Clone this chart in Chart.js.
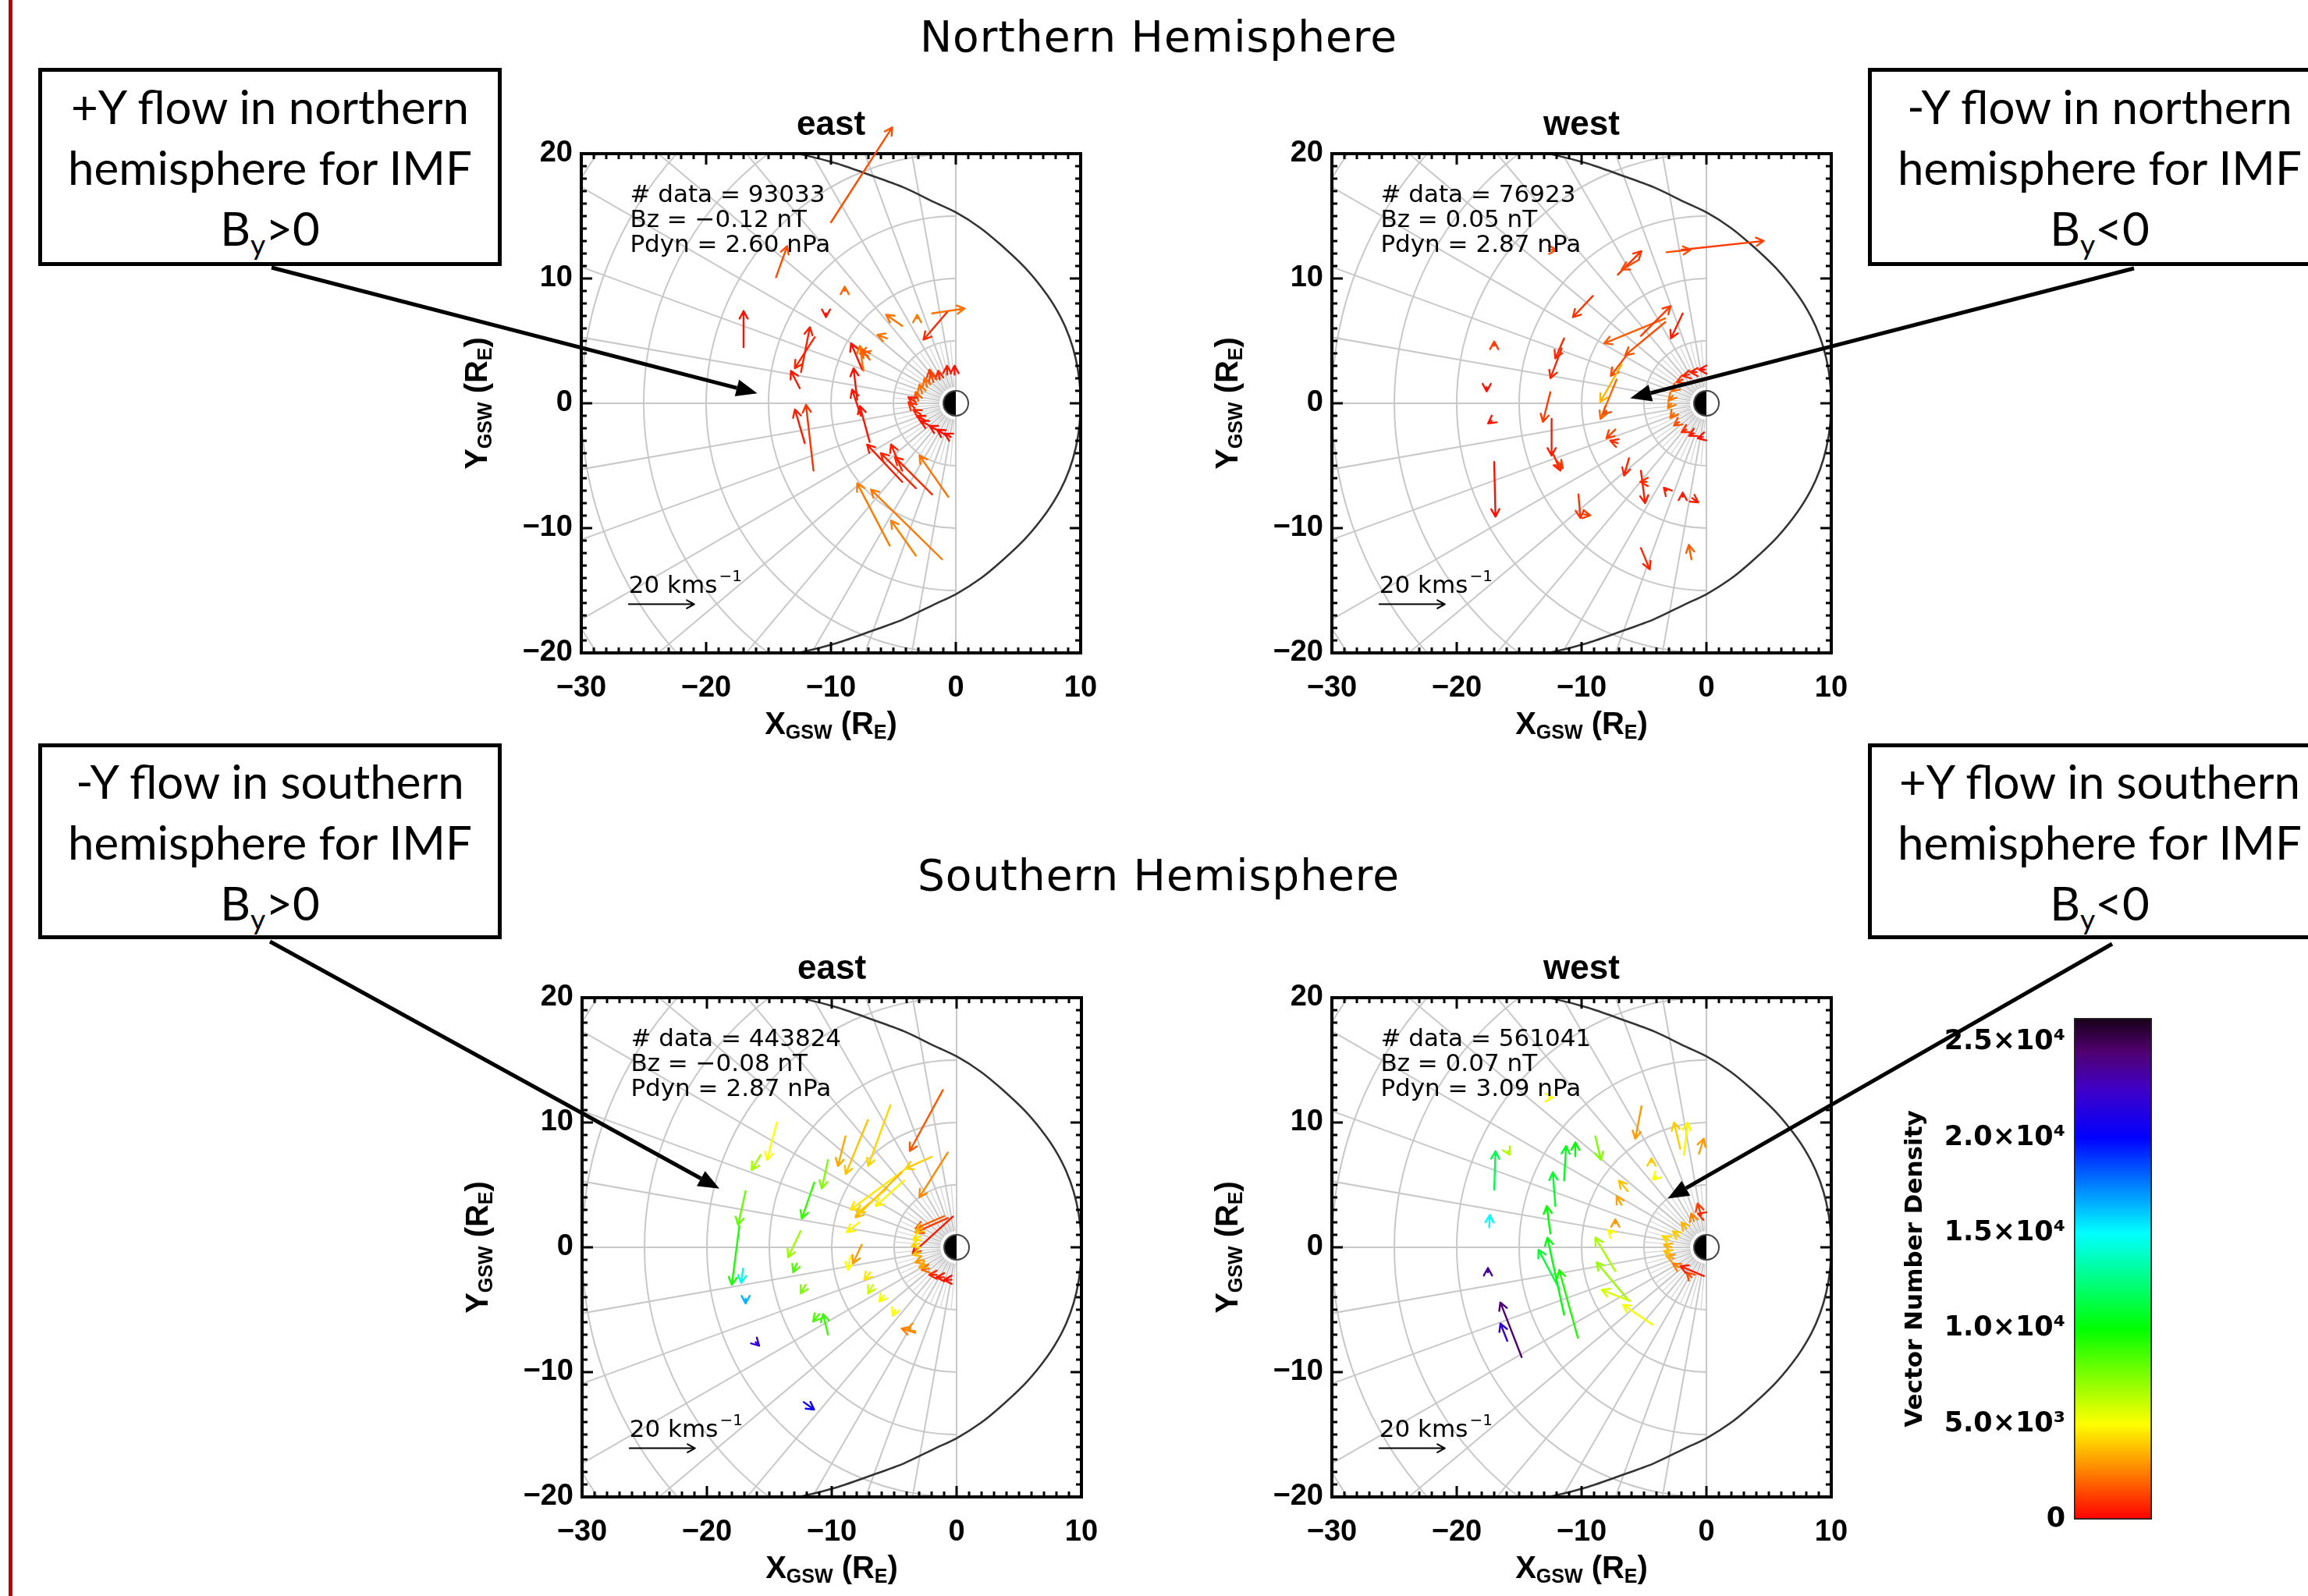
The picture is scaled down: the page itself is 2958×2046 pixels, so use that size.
<!DOCTYPE html>
<html>
<head>
<meta charset="utf-8">
<title>Flow vectors by hemisphere</title>
<script src="https://cdn.jsdelivr.net/npm/chart.js@4.4.1/dist/chart.umd.min.js"></script>
<style>
  html, body { margin: 0; padding: 0; background: #fff; }
  body { position: relative; width: 2958px; height: 2046px; overflow: hidden; }
  canvas { position: absolute; }
  .redline { position: absolute; left: 11px; top: 0; width: 5px; height: 2046px; background: #c00000; }
  .hemi { position: absolute; left: 1485px; transform: translate(-50%, -50%); font-family: "DejaVu Sans"; font-size: 55px; letter-spacing: 1px; white-space: nowrap; color: #000; }
  .note { position: absolute; width: 594px; box-sizing: border-box; border: 5px solid #000; background: #fff;
          font-family: Lato; font-size: 60px; line-height: 78px; text-align: center; color: #000;
          display: flex; align-items: center; justify-content: center; z-index: 2; }
  .note sub { font-size: 0.62em; line-height: 0; vertical-align: -0.32em; }
  #overlay { z-index: 3; pointer-events: none; left: 0; top: 0; }
</style>
</head>
<body>
<div class="redline"></div>
<div class="hemi" style="top:47px">Northern Hemisphere</div>
<div class="hemi" style="top:1122px">Southern Hemisphere</div>

<div class="note" style="left:49px; top:87px; height:254px"><div>+Y flow in northern<br>hemisphere for IMF<br>B<sub>y</sub>&gt;0</div></div>
<div class="note" style="left:2394px; top:87px; height:254px"><div>-Y flow in northern<br>hemisphere for IMF<br>B<sub>y</sub>&lt;0</div></div>
<div class="note" style="left:49px; top:953px; height:251px"><div>-Y flow in southern<br>hemisphere for IMF<br>B<sub>y</sub>&gt;0</div></div>
<div class="note" style="left:2394px; top:953px; height:251px"><div>+Y flow in southern<br>hemisphere for IMF<br>B<sub>y</sub>&lt;0</div></div>

<canvas id="tl" width="860" height="850" style="left:575px; top:117px"></canvas>
<canvas id="tr" width="860" height="850" style="left:1537px; top:117px"></canvas>
<canvas id="bl" width="860" height="850" style="left:576px; top:1199px"></canvas>
<canvas id="br" width="860" height="850" style="left:1537px; top:1199px"></canvas>
<canvas id="cbar" width="400" height="720" style="left:2400px; top:1260px"></canvas>
<canvas id="overlay" width="2958" height="2046"></canvas>

<script>
// Vector key: a 20 km/s arrow is drawn 5.25 R_E long
const keySpeed = 20;
const vecScale = 5.25 / 20;

// Northern hemisphere, IMF By > 0 ("east")
// tail position (R_E), velocity (km/s), vector number density
const tlX = [-10.0, -14.4, -8.9, -10.4, -17.0, -4.3, -3.1, -1.9, -0.7, -5.5, -12.4, -11.3, -12.1, -11.4, -12.5,
             -7.5, -7.9, -7.6, -6.9, -7.4, -6.8, -6.9, -4.3, -3.2, -1.9, -4.3, -0.6, -5.3, -1.1, -3.2,
             -0.1, -0.7, -1.3, -1.8, -2.3, -2.7, -3.0, -3.2, -2.8, -2.4, -2.1, -1.4, -0.9, -0.4, -3.3, -2.0];
const tlY = [14.5, 10.1, 9.0, 7.2, 4.5, 6.2, 6.8, 7.2, 7.3, 5.2, 2.5, 5.3, -3.2, -5.4, 1.2,
             2.7, 0.3, -1.0, -3.1, 2.6, 4.2, 3.5, -6.3, -6.8, -7.3, -5.4, -7.5, -11.4, -12.5, -12.2,
             2.3, 2.3, 1.9, 1.7, 1.3, 0.8, 0.2, 0.1, -0.9, -1.4, -1.8, -2.2, -2.5, -2.7, -0.4, 2.1];
const tlU = [18.7, 3.4, 0, 0, 0, -4.9, 0, 9.9, -7.2, -3.0, 2.7, -6.1, -3.0, -2.3, -2.7,
             -3.4, -1.1, -2.7, -3.0, -1.1, -3.4, -2.3, -10.7, -10.7, -11.4, -3.4, -8.8, -9.9, -21.7, -7.6,
             0, 0, -0.4, -0.8, -0.8, -0.8, -0.8, -2.3, -2.3, -2.7, -2.7, -2.7, -2.3, -1.9, -1.9, -0.4];
const tlV = [29.0, 9.5, 1.3, -1.1, 11.0, 3.4, 1.1, 1.5, -8.4, 1.1, 13.7, -9.5, 10.3, 20.1, 5.3,
             8.0, 9.5, 8.0, 11.0, 7.6, -0.8, 3.0, 11.4, 10.7, 11.4, 8.0, 12.6, 19.0, 21.3, 10.7,
             2.7, 2.7, 2.7, 2.7, 2.7, 2.7, 2.7, 1.5, 1.5, 1.5, 1.5, 1.5, 1.5, 1.1, 1.9, 2.3];
const tlN = [1500, 1500, 2000, 400, 300, 2200, 2400, 2200, 800, 2300, 600, 700, 500, 1000, 400,
             300, 300, 400, 400, 2200, 2000, 1800, 500, 700, 800, 600, 2200, 2400, 2300, 2500,
             300, 500, 800, 1500, 2000, 2200, 1800, 600, 700, 500, 400, 300, 200, 200, 900, 1200];

// Northern hemisphere, IMF By < 0 ("west")
const trX = [-3.2, -2.0, -7.1, -5.4, -9.1, -11.4, -11.6, -12.5, -12.4, -12.3, -12.0, -3.3, -5.25, -3.3, -1.9,
             -6.4, -6.8, -7.2, -8.0, -7.3, -7.1, -6.2, -5.25, -4.8, -3.2, -1.9, -1.15, -10.25, -9.8, -5.25,
             -1.2, -17.0, -17.0, -17.6, -17.2, -12.4,
             -0.1, -0.8, -1.4, -1.9, -2.4, -2.7, -2.8, -2.6, -2.2, -1.6, -1.0, -0.3];
const trY = [12.1, 12.3, 10.3, 11.5, 8.6, 5.2, 4.4, 0.9, -1.25, -4.0, -4.6, 6.8, 5.4, 6.5, 7.2,
             3.85, 3.1, 1.9, -0.6, -2.1, -3.2, -4.4, -5.4, -6.3, -7.0, -7.5, -7.6, -7.3, -8.9, -11.6,
             -12.5, -4.7, 4.6, 1.3, -1.4, 12.3,
             2.7, 2.5, 2.3, 1.9, 1.3, 0.6, 0.0, -0.8, -1.5, -2.1, -2.4, -2.7];
const trU = [7.4, 25.1, 7.2, -5.3, -6.1, -2.7, -3.4, -2.3, 0, 2.3, 1.9, -18.6, 9.1, -12.2, -3.6,
             -4.8, -6.5, -4.9, -1.1, -2.7, -2.3, -1.5, 1.3, -1.9, -0.8, 0, 1.9, 0.6, 1.9, 2.7,
             -0.8, 0.4, 0, 0, -1.1, 1.5,
             -1.9, -1.9, -1.9, -1.9, -1.5, -1.3, -1.1, -1.1, -1.5, -1.5, -1.5, -1.5];
const trV = [0.8, 2.7, 7.2, -3.0, -6.5, -6.1, -9.1, -9.1, -11.2, -5.3, -2.3, -7.6, 9.1, -10.1, -7.6,
             -6.3, -11.4, -12.0, -1.1, -2.7, 0.8, -5.3, -9.9, 0, 0.9, 1.3, -1.3, -7.2, -0.3, -6.5,
             4.4, -16.7, 1.3, -1.3, -0.8, 0,
             0, 0, -0.4, -0.8, -1.3, -1.5, -1.5, -1.5, -1.1, -0.8, -0.8, -0.4];
const trN = [1500, 1200, 1000, 1400, 1000, 800, 700, 1200, 500, 800, 1000, 1800, 1200, 1500, 600,
             1400, 3500, 2000, 1500, 1300, 900, 700, 500, 800, 600, 500, 600, 1000, 1200, 700,
             1800, 300, 1200, 300, 400, 1500,
             400, 500, 700, 1200, 2000, 2200, 2400, 2000, 1500, 900, 500, 300];

// Southern hemisphere, IMF By > 0 ("east")
const blX = [-1.1, -0.7, -2.0, -5.3, -7.1, -8.9, -14.4, -15.7, -10.3, -11.4, -4.0, -4.4, -4.2, -5.6, -7.8,
             -16.9, -17.4, -17.1, -16.9, -16.1, -12.25, -12.5, -12.8, -12.1, -11.0, -10.3, -8.5, -7.6, -6.9, -6.7,
             -5.8, -4.9, -3.3, -3.7, -0.3, -0.7, -1.0,
             -2.7, -2.9, -3.0, -2.9, -2.7, -2.2, -1.6, -1.0, -0.4, -2.5];
const blY = [12.6, 7.6, 7.25, 11.4, 10.2, 8.9, 10.0, 7.4, 7.0, 5.2, 6.35, 6.0, 5.35, 4.7, 2.0,
             4.5, 1.7, -1.7, -4.1, -7.6, -12.4, 1.3, -1.3, -3.0, -5.35, -7.0, -0.7, 0.2, -2.0, -3.0,
             -3.85, -5.0, -6.85, -6.5, 2.46, 2.35, 2.5,
             1.6, 0.9, 0.3, -0.4, -1.0, -1.7, -2.2, -2.4, -2.6, -1.4];
const blU = [-10.1, -8.7, -8.0, -6.8, -6.8, -2.3, -3.0, -2.7, -1.9, -3.8, -17.1, -14.1, -8.7, -9.1, -3.8,
             -2.3, -2.3, -0.6, 0, 1.1, 3.2, -3.8, -1.1, -1.5, -1.9, -1.5, -0.8, -2.7, -1.9, -1.5,
             -1.5, -0.8, -4.2, -1.1, -12.3, -9.9, -8.7,
             -2.3, -2.3, -2.3, -2.3, -2.3, -2.3, -2.3, -2.3, -2.3, -1.9];
const blV = [-18.6, -13.7, -3.6, -18.6, -16.5, -9.1, -11.4, -4.6, -8.7, -11.0, -12.7, -13.7, -7.8, -7.6, -3.0,
             -10.3, -17.9, -4.4, -1.5, -1.1, -2.3, -8.0, -2.7, -2.7, -2.3, 6.3, -4.2, -5.7, -2.3, -2.7,
             -1.9, -1.9, 1.3, -0.4, -11.2, -4.4, -3.8,
             -1.5, -1.1, -0.8, -0.8, -0.8, -0.4, 0, 0, 0, -0.8];
const blN = [1700, 2700, 4000, 4200, 3800, 3300, 5000, 6800, 7500, 9000, 4500, 3500, 4800, 4000, 4800,
             8000, 9500, 14500, 16500, 22000, 20500, 7000, 8500, 7500, 8500, 9000, 5000, 3000, 4500, 6000,
             5200, 5000, 2500, 2800, 500, 1200, 1800,
             3500, 4500, 4200, 3800, 3000, 2000, 800, 500, 300, 3200];

// Southern hemisphere, IMF By < 0 ("west")
const brX = [-17.0, -15.9, -17.4, -17.5, -14.8, -15.95, -11.4, -10.5, -12.1, -12.5, -11.4, -10.3, -11.8, -8.9, -5.2,
             -4.4, -4.0, -6.3, -6.8, -7.3, -7.6, -7.3, -6.2, -4.3, -6.1, -2.1, -1.8, -0.6, -12.6,
             -0.5, -1.0, -1.6, -2.2, -2.8, -2.6, -2.2, -1.2, -0.2, -0.4, -3.0, -2.9];
const brY = [4.6, 7.7, 1.6, -2.0, -8.8, -7.5, 5.35, 7.3, 3.3, 1.1, -5.4, -7.25, -3.3, 8.9, 11.3,
             6.8, 5.7, 4.5, 3.4, 1.9, 1.1, -1.9, -4.3, -6.2, -4.3, 7.9, 7.4, 7.5, 12.0,
             2.8, 2.1, 1.5, 0.9, 0.0, -0.9, -1.6, -2.4, -2.3, 2.6, 0.6, -0.5];
const brU = [0.4, 0.6, 0.2, 0, -6.5, -2.1, 0.6, 0, -0.8, -1.1, -5.1, -5.7, -6.3, 1.7, -1.9,
             0, -1.1, -2.7, -1.5, 0, -1.1, -6.1, -9.9, -9.1, -8.7, -1.9, 1.1, 1.5, 1.1,
             -0.8, -0.8, -1.5, -1.9, -2.3, -2.3, -1.9, -1.5, -7.2, -1.1, -1.9, -1.9];
const brV = [11.8, -1.1, 3.8, 1.3, 16.7, 5.3, 10.5, 4.2, 10.3, 8.4, 23.5, 20.7, 11.8, -7.2, -9.9,
             1.3, -1.1, 3.2, 2.7, 1.3, 1.1, 10.2, 11.8, 6.1, 3.4, 8.0, 9.9, 4.6, 0,
             2.7, 2.3, 1.9, 1.5, 0.8, 0.8, 1.1, 1.5, 3.0, 0.4, 1.1, 0.8];
const brN = [11500, 6500, 15000, 23500, 24500, 22000, 10500, 10000, 10800, 10000, 10200, 9500, 11000, 7500, 3000,
             4000, 5000, 3800, 3200, 3000, 5000, 6800, 7000, 5200, 5800, 4000, 4800, 3000, 5000,
             1200, 2500, 3500, 4000, 3500, 3000, 2500, 1500, 500, 800, 4200, 3800];

// Magnetopause boundary (R_E)
const mpX = [-16.0, -12.2, -9.5, -6.9, -4.2, -1.7, 0.0, 1.9, 3.6, 5.6, 7.3, 8.4, 9.1, 9.6, 9.9, 10.0,
             9.9, 9.6, 9.1, 8.4, 7.3, 5.6, 3.6, 1.9, 0.0, -1.7, -4.2, -6.9, -9.5, -12.2, -16.0];
const mpY = [20.6, 19.9, 19.2, 18.3, 17.3, 16.1, 15.3, 14.1, 12.7, 10.8, 8.7, 6.9, 5.3, 3.6, 1.8, 0.0,
             -1.8, -3.6, -5.3, -6.9, -8.7, -10.8, -12.7, -14.1, -15.3, -16.1, -17.3, -18.3, -19.2, -19.9, -20.6];

// Background polar grid
const gridRadii = [5, 10, 15, 20, 25, 30, 35];
const rayStep = 10;

// Panel annotations
const tlText = ['# data = 93033', 'Bz = \u22120.12 nT', 'Pdyn = 2.60 nPa'];
const trText = ['# data = 76923', 'Bz = 0.05 nT', 'Pdyn = 2.87 nPa'];
const blText = ['# data = 443824', 'Bz = \u22120.08 nT', 'Pdyn = 2.87 nPa'];
const brText = ['# data = 561041', 'Bz = 0.07 nT', 'Pdyn = 3.09 nPa'];

// Colour bar
const cbMax = 26270;
const cbStops = [0, 2500, 5000, 7500, 10000, 12500, 15000, 17500, 20000, 22500, 24500, 26270];
const cbColors = ['#ff0000', '#ff8000', '#ffff00', '#80ff00', '#00ff00', '#00ff80', '#00ffff', '#0080ff', '#0000ff', '#4000c8', '#500070', '#180018'];
const cbTickValues = [0, 5000, 10000, 15000, 20000, 25000];
const cbTickLabels = ['0', '5.0\u00d710\u00b3', '1.0\u00d710\u2074', '1.5\u00d710\u2074', '2.0\u00d710\u2074', '2.5\u00d710\u2074'];

// Where the callout arrows point, in each panel's data coordinates
const tlTip = [-15.9, 0.8];
const trTip = [-6.1, 0.4];
const blTip = [-19.0, 4.7];
const brTip = [-3.1, 3.9];

function hexToRgb(h) {
  return [parseInt(h.slice(1, 3), 16), parseInt(h.slice(3, 5), 16), parseInt(h.slice(5, 7), 16)];
}

function densityColor(n) {
  for (let i = 1; i < cbStops.length; i++) {
    if (n <= cbStops[i]) {
      const t = (n - cbStops[i - 1]) / (cbStops[i] - cbStops[i - 1]);
      const a = hexToRgb(cbColors[i - 1]), b = hexToRgb(cbColors[i]);
      const c = a.map((v, k) => Math.round(v + (b[k] - v) * t));
      return 'rgb(' + c.join(',') + ')';
    }
  }
  return cbColors[cbColors.length - 1];
}

function drawArrow(ctx, x0, y0, x1, y1, head, color, width) {
  const ang = Math.atan2(y1 - y0, x1 - x0);
  ctx.strokeStyle = color;
  ctx.lineWidth = width;
  ctx.lineCap = 'round';
  ctx.lineJoin = 'round';
  ctx.beginPath();
  ctx.moveTo(x0, y0);
  ctx.lineTo(x1, y1);
  ctx.moveTo(x1 - head * Math.cos(ang - 0.5), y1 - head * Math.sin(ang - 0.5));
  ctx.lineTo(x1, y1);
  ctx.lineTo(x1 - head * Math.cos(ang + 0.5), y1 - head * Math.sin(ang + 0.5));
  ctx.stroke();
}

// Draw "X" + subscript "GSW" + " (R" + subscript "E" + ")" centred on (0,0)
function drawAxisLabel(ctx, letter) {
  const big = 'bold 40px "Liberation Sans"', small = 'bold 25px "Liberation Sans"';
  const parts = [[letter, big, 0], ['GSW', small, 10], [' (R', big, 0], ['E', small, 10], [')', big, 0]];
  let w = 0;
  parts.forEach(p => { ctx.font = p[1]; w += ctx.measureText(p[0]).width; });
  let x = -w / 2;
  ctx.textBaseline = 'middle';
  ctx.textAlign = 'left';
  parts.forEach(p => {
    ctx.font = p[1];
    ctx.fillText(p[0], x, p[2]);
    x += ctx.measureText(p[0]).width;
  });
}

const panelInfo = {
  tl: { title: 'east', lines: tlText },
  tr: { title: 'west', lines: trText },
  bl: { title: 'east', lines: blText },
  br: { title: 'west', lines: brText }
};

const panelPlugin = {
  id: 'vectorPanel',
  beforeDatasetsDraw(chart) {
    const ctx = chart.ctx, a = chart.chartArea;
    const xs = chart.scales.x, ys = chart.scales.y;
    const cx = xs.getPixelForValue(0), cy = ys.getPixelForValue(0);
    const ux = xs.getPixelForValue(1) - cx, uy = cy - ys.getPixelForValue(1);
    ctx.save();
    ctx.beginPath();
    ctx.rect(a.left, a.top, a.right - a.left, a.bottom - a.top);
    ctx.clip();
    ctx.strokeStyle = '#c8c8c8';
    ctx.lineWidth = 2;
    gridRadii.forEach(r => {
      ctx.beginPath();
      ctx.ellipse(cx, cy, r * ux, r * uy, 0, Math.PI / 2, 3 * Math.PI / 2);
      ctx.stroke();
    });
    for (let d = 90; d <= 270; d += rayStep / 2) {
      const t = d * Math.PI / 180;
      const major = d % rayStep === 0;
      const rOut = major ? 60 : 5;
      ctx.lineWidth = major ? 2 : 1.2;
      ctx.strokeStyle = major ? '#c8c8c8' : '#d4d4d4';
      ctx.beginPath();
      ctx.moveTo(cx + 1.3 * ux * Math.cos(t), cy - 1.3 * uy * Math.sin(t));
      ctx.lineTo(cx + rOut * ux * Math.cos(t), cy - rOut * uy * Math.sin(t));
      ctx.stroke();
    }
    ctx.strokeStyle = '#c8c8c8';
    ctx.lineWidth = 2;
    ctx.beginPath();
    ctx.moveTo(cx, a.top);
    ctx.lineTo(cx, a.bottom);
    ctx.stroke();
    ctx.restore();
  },
  afterDatasetsDraw(chart) {
    const ctx = chart.ctx, a = chart.chartArea;
    const xs = chart.scales.x, ys = chart.scales.y;
    const info = panelInfo[chart.canvas.id];
    const cx = xs.getPixelForValue(0), cy = ys.getPixelForValue(0);
    const ux = xs.getPixelForValue(1) - cx;
    ctx.save();

    // Earth: night side dark
    ctx.fillStyle = '#fff';
    ctx.beginPath(); ctx.arc(cx, cy, ux, 0, 2 * Math.PI); ctx.fill();
    ctx.fillStyle = '#000';
    ctx.beginPath(); ctx.arc(cx, cy, ux, Math.PI / 2, 3 * Math.PI / 2); ctx.closePath(); ctx.fill();
    ctx.strokeStyle = '#444'; ctx.lineWidth = 2;
    ctx.beginPath(); ctx.arc(cx, cy, ux, 0, 2 * Math.PI); ctx.stroke();

    // Frame with inward ticks
    ctx.strokeStyle = '#000';
    ctx.lineWidth = 4;
    ctx.strokeRect(a.left, a.top, a.right - a.left, a.bottom - a.top);
    ctx.lineWidth = 3;
    ctx.beginPath();
    for (let v = xs.min; v <= xs.max; v++) {
      const p = xs.getPixelForValue(v), len = (v % 10 === 0) ? 14 : 7;
      ctx.moveTo(p, a.bottom); ctx.lineTo(p, a.bottom - len);
      ctx.moveTo(p, a.top); ctx.lineTo(p, a.top + len);
    }
    for (let v = ys.min; v <= ys.max; v++) {
      const p = ys.getPixelForValue(v), len = (v % 10 === 0) ? 14 : 7;
      ctx.moveTo(a.left, p); ctx.lineTo(a.left + len, p);
      ctx.moveTo(a.right, p); ctx.lineTo(a.right - len, p);
    }
    ctx.stroke();

    // Flow vectors
    chart.data.datasets[0].data.forEach(pt => {
      const x0 = xs.getPixelForValue(pt.x), y0 = ys.getPixelForValue(pt.y);
      const x1 = xs.getPixelForValue(pt.x + pt.u * vecScale), y1 = ys.getPixelForValue(pt.y + pt.v * vecScale);
      drawArrow(ctx, x0, y0, x1, y1, 11, densityColor(pt.n), 2.4);
    });

    // Statistics text
    ctx.fillStyle = '#000';
    ctx.font = '31px "DejaVu Sans"';
    ctx.textAlign = 'left';
    ctx.textBaseline = 'middle';
    info.lines.forEach((s, i) => {
      ctx.fillText(s, xs.getPixelForValue(-26.1), ys.getPixelForValue(16.6 - 2 * i));
    });

    // Vector key
    const kx = xs.getPixelForValue(-26.2), ky = ys.getPixelForValue(-14.7);
    ctx.fillText('20 kms', kx, ky);
    const kw = ctx.measureText('20 kms').width;
    ctx.font = '20px "DejaVu Sans"';
    ctx.fillText('\u22121', kx + kw + 2, ky - 12);
    drawArrow(ctx, kx, ys.getPixelForValue(-16.1), xs.getPixelForValue(-26.2 + keySpeed * vecScale), ys.getPixelForValue(-16.1), 11, '#000', 2);

    // Titles
    ctx.font = 'bold 44px "Liberation Sans"';
    ctx.textAlign = 'center';
    ctx.fillText(info.title, (a.left + a.right) / 2, a.top - 36);
    ctx.save();
    ctx.translate((a.left + a.right) / 2, a.bottom + 93);
    drawAxisLabel(ctx, 'X');
    ctx.restore();
    ctx.save();
    ctx.translate(a.left - 132, (a.top + a.bottom) / 2);
    ctx.rotate(-Math.PI / 2);
    drawAxisLabel(ctx, 'Y');
    ctx.restore();

    ctx.restore();
  }
};

const tickFont = { family: 'Liberation Sans', size: 38, weight: 'bold' };

function makePanel(id, px, py, pu, pv, pn) {
  const pts = px.map((x, i) => ({ x: x, y: py[i], u: pu[i], v: pv[i], n: pn[i] }));
  const mp = mpX.map((x, i) => ({ x: x, y: mpY[i] }));
  return new Chart(document.getElementById(id), {
    type: 'scatter',
    data: {
      datasets: [
        { data: pts, pointRadius: 0, showLine: false },
        { data: mp, showLine: true, borderColor: '#333', borderWidth: 2.5, pointRadius: 0, tension: 0.3, fill: false }
      ]
    },
    options: {
      responsive: false,
      animation: false,
      events: [],
      layout: { padding: { left: 0, top: 80, right: 50, bottom: 0 } },
      plugins: { legend: { display: false }, tooltip: { enabled: false } },
      scales: {
        x: {
          type: 'linear', min: -30, max: 10,
          afterFit: s => { s.height = 130; },
          grid: { display: false, drawTicks: false },
          border: { display: false },
          ticks: { stepSize: 10, padding: 23, color: '#000', font: tickFont, maxRotation: 0, autoSkip: false,
                   callback: v => String(v).replace('-', '\u2212') }
        },
        y: {
          type: 'linear', min: -20, max: 20,
          afterFit: s => { s.width = 170; },
          grid: { display: false, drawTicks: false },
          border: { display: false },
          ticks: { stepSize: 10, padding: 11, color: '#000', font: tickFont, autoSkip: false,
                   callback: v => String(v).replace('-', '\u2212') }
        }
      }
    },
    plugins: [panelPlugin]
  });
}

const tlChart = makePanel('tl', tlX, tlY, tlU, tlV, tlN);
const trChart = makePanel('tr', trX, trY, trU, trV, trN);
const blChart = makePanel('bl', blX, blY, blU, blV, blN);
const brChart = makePanel('br', brX, brY, brU, brV, brN);

// Colour bar as a single full-height bar
new Chart(document.getElementById('cbar'), {
  type: 'bar',
  data: {
    labels: [''],
    datasets: [{
      data: [cbMax],
      backgroundColor: c => {
        const ch = c.chart;
        if (!ch.chartArea) return cbColors[0];
        const ys = ch.scales.y;
        const g = ch.ctx.createLinearGradient(0, ys.getPixelForValue(0), 0, ys.getPixelForValue(cbMax));
        cbStops.forEach((s, i) => g.addColorStop(s / cbMax, cbColors[i]));
        return g;
      },
      borderColor: '#222',
      borderWidth: 2,
      borderSkipped: false,
      barPercentage: 1,
      categoryPercentage: 1
    }]
  },
  options: {
    responsive: false,
    animation: false,
    events: [],
    layout: { padding: { left: 0, top: 45, right: 42, bottom: 28 } },
    plugins: { legend: { display: false }, tooltip: { enabled: false } },
    scales: {
      x: { display: false },
      y: {
        min: 0, max: cbMax,
        afterFit: s => { s.width = 258; },
        afterBuildTicks: s => { s.ticks = cbTickValues.map(v => ({ value: v })); },
        grid: { display: false, drawTicks: false },
        border: { display: false },
        ticks: { padding: 11, color: '#000', font: { family: 'DejaVu Sans', size: 35, weight: 'bold' },
                 callback: v => cbTickLabels[cbTickValues.indexOf(v)] },
        title: { display: true, text: 'Vector Number Density', color: '#000',
                 font: { family: 'DejaVu Sans', size: 31, weight: 'bold' }, padding: { top: 36, bottom: 0 } }
      }
    }
  }
});

// Callout arrows from the note boxes to the flow regions
function pageXY(chart, pt) {
  const cv = chart.canvas;
  return [cv.offsetLeft + chart.scales.x.getPixelForValue(pt[0]), cv.offsetTop + chart.scales.y.getPixelForValue(pt[1])];
}

function drawCallout(ctx, sx, sy, tip) {
  const [tx, ty] = tip;
  const ang = Math.atan2(ty - sy, tx - sx);
  const len = 27, hw = 11;
  const bx = tx - len * Math.cos(ang), by = ty - len * Math.sin(ang);
  ctx.strokeStyle = '#000';
  ctx.fillStyle = '#000';
  ctx.lineWidth = 5;
  ctx.beginPath();
  ctx.moveTo(sx, sy);
  ctx.lineTo(bx, by);
  ctx.stroke();
  ctx.beginPath();
  ctx.moveTo(tx, ty);
  ctx.lineTo(bx + hw * Math.sin(ang), by - hw * Math.cos(ang));
  ctx.lineTo(bx - hw * Math.sin(ang), by + hw * Math.cos(ang));
  ctx.closePath();
  ctx.fill();
}

const octx = document.getElementById('overlay').getContext('2d');
drawCallout(octx, 348, 343, pageXY(tlChart, tlTip));
drawCallout(octx, 2735, 344, pageXY(trChart, trTip));
drawCallout(octx, 346, 1207, pageXY(blChart, blTip));
drawCallout(octx, 2707, 1210, pageXY(brChart, brTip));
</script>
</body>
</html>
